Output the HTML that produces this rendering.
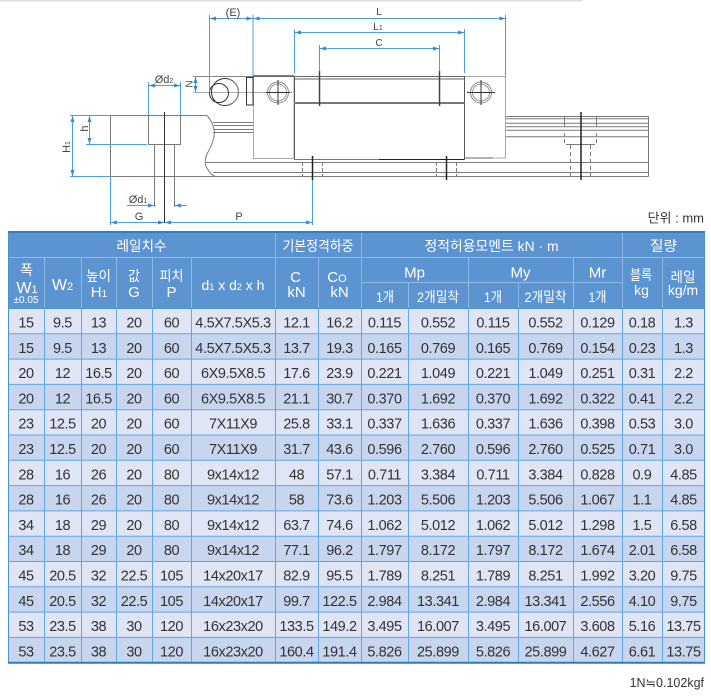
<!DOCTYPE html>
<html><head><meta charset="utf-8">
<style>
html,body{margin:0;padding:0;background:#fff;}
svg{display:block;}
text{font-family:"Liberation Sans","Noto Sans CJK KR",sans-serif;}
.d text{font-size:14.5px;fill:#333;text-anchor:middle;letter-spacing:-0.4px;}
.h text{fill:#fff;text-anchor:middle;}
.k{font-size:14px;}
.l{font-size:15px;}
.dm{font-size:11px;fill:#444;text-anchor:middle;}
</style></head><body>
<svg width="711" height="700" viewBox="0 0 711 700" xmlns="http://www.w3.org/2000/svg">
<defs>
<marker id="a" markerUnits="userSpaceOnUse" markerWidth="6" markerHeight="4" refX="6" refY="2" orient="auto-start-reverse"><path d="M0,0L6,2L0,4z" fill="#2f8ad8"/></marker>
</defs>
<rect width="711" height="700" fill="#fff"/>
<line x1="0" y1="0.5" x2="582" y2="0.5" stroke="#ddd" stroke-width="2"/>

<!-- ===== drawing: gray geometry ===== -->
<g stroke="#7a7a7a" stroke-width="1" fill="none">
 <path d="M110.5,115.5V176.5"/>
 <path d="M110.5,115.5H207"/>
 <path d="M110.5,176.5H648.5"/>
 <path d="M206,162.5H648.5"/>
 <path d="M213,172.5H648.5"/>
 <path d="M207,115.5Q213,122 214.5,132Q214,142 208,152Q203,162 207,168Q210,174 215,176.5"/>
 <path d="M213,122.5H253M214,125.5H253M214,129.5H253M213,132.5H253"/>
 <path d="M148.5,115.5V144.5H180.5V115.5"/>
 <path d="M154.5,144.5V207M174.5,144.5V207"/>
 <path d="M506,116.5H648.5M506,118.8H648.5M506,123.3H648.5M506,126.7H648.5M506,130.2H648.5M506,136.7H648.5"/>
 <path d="M648.5,116.5V176.5"/>
 <path d="M564.5,116V127M596.5,116V127"/>
 <path d="M564.5,133V144.5M596.5,133V144.5" stroke-dasharray="4,2"/>
 <path d="M566,144.5H595"/>
 <path d="M570.5,145V176M590.5,145V176" stroke-dasharray="4,3"/>
 <path d="M302.5,162V176M322.5,162V176M436.5,162V176M456.5,162V176" stroke-dasharray="4,2"/>
 <!-- block -->
 <rect x="253.5" y="76.5" width="40.5" height="82" stroke="#aaa"/>
 <rect x="464.5" y="76.5" width="41" height="81.5" stroke="#aaa"/>
 <path d="M294,76.5H464.5M294,79H464.5" stroke="#666"/>
 <path d="M294.5,76V159.5M464.5,76V159.5" stroke="#555"/>
 <path d="M294,159.5H379" stroke="#777"/>
 <path d="M193,76.5H253" stroke="#888"/>
 <path d="M193,92.5H292" stroke="#aaa"/>
 <circle cx="278" cy="92.5" r="10.5" stroke="#888"/>
 <circle cx="278" cy="92.5" r="8.5" stroke="#999"/>
 <circle cx="481" cy="92.5" r="10.5" stroke="#888"/>
 <circle cx="481" cy="92.5" r="8.5" stroke="#999"/>
</g>
<g fill="none" stroke="#333">
 <path d="M253,76H294" stroke="#555" stroke-width="1.5"/>
 <path d="M294,103H464.5" stroke="#777" stroke-width="2"/>
 <path d="M379,159.5H464.5" stroke="#222"/>
 <path d="M464.5,158H493" stroke="#666"/>
 <path d="M319.5,71V106M439.5,71V106" stroke="#444" stroke-width="1.5"/>
 <path d="M278,80V105M266,92.5H290M481,80V105M467,92.5H495" stroke="#333"/>
 <circle cx="225" cy="92" r="13.5"/>
 <circle cx="219" cy="93" r="9.5"/>
 <path d="M229,79.5A13,13 0 0 1 229,104.5" stroke="#888"/>
 <rect x="246.5" y="77.5" width="6.5" height="27.5"/>
 <path d="M164.5,112V223" stroke="#333"/>
 <path d="M312.5,156V180M446.5,156V180M581,112V180" stroke="#222" stroke-width="1.5"/>
</g>

<!-- ===== dimensions (blue) ===== -->
<g stroke="#4d9de0" stroke-width="1" fill="none">
 <path d="M209.5,15V92M253,15V76M505.5,15V76M294.5,29V73M464.5,29V73M319.5,45V71M439.5,45V71"/>
 <line x1="210" y1="18.5" x2="252.5" y2="18.5" marker-start="url(#a)" marker-end="url(#a)"/>
 <line x1="253.5" y1="18.5" x2="505.5" y2="18.5" marker-start="url(#a)" marker-end="url(#a)"/>
 <line x1="295" y1="32.5" x2="464" y2="32.5" marker-start="url(#a)" marker-end="url(#a)"/>
 <line x1="320" y1="48.5" x2="439" y2="48.5" marker-start="url(#a)" marker-end="url(#a)"/>
 <line x1="195.5" y1="77" x2="195.5" y2="92" marker-start="url(#a)" marker-end="url(#a)"/>
 <path d="M148.5,82V115M180.5,82V115"/>
 <line x1="149" y1="85.5" x2="180" y2="85.5" marker-start="url(#a)" marker-end="url(#a)"/>
 <path d="M70,115.5H110M70,176.5H110M86,144.5H147"/>
 <line x1="89.5" y1="116" x2="89.5" y2="144" marker-start="url(#a)" marker-end="url(#a)"/>
 <line x1="72.5" y1="116" x2="72.5" y2="176" marker-start="url(#a)" marker-end="url(#a)"/>
 <line x1="127" y1="205.5" x2="154" y2="205.5" marker-end="url(#a)"/>
 <line x1="187" y1="205.5" x2="175" y2="205.5" marker-end="url(#a)"/>
 <path d="M110.5,177V225M312.5,180V225"/>
 <line x1="111" y1="222.5" x2="164" y2="222.5" marker-start="url(#a)" marker-end="url(#a)"/>
 <line x1="165" y1="222.5" x2="312" y2="222.5" marker-start="url(#a)" marker-end="url(#a)"/>
</g>
<g class="dm">
 <text x="233" y="16">(E)</text>
 <text x="379" y="15" style="font-size:10px">L</text>
 <text x="378" y="30" style="font-size:10px">L<tspan style="font-size:7px">1</tspan></text>
 <text x="379" y="46" style="font-size:10px">C</text>
 <text transform="translate(192.5,84) rotate(-90)" style="font-size:10px">N</text>
 <text x="164" y="83">Ød<tspan style="font-size:7px">2</tspan></text>
 <text transform="translate(88,128.5) rotate(-90)">h</text>
 <text transform="translate(70,147) rotate(-90)">H<tspan style="font-size:7px">1</tspan></text>
 <text x="138" y="203">Ød<tspan style="font-size:7px">1</tspan></text>
 <text x="139" y="220">G</text>
 <text x="239" y="220">P</text>
</g>
<text x="704" y="222.5" text-anchor="end" style="font-size:13px;fill:#333">단위 : mm</text>

<!-- ===== table ===== -->
<rect x="8" y="232" width="697" height="76.5" fill="#5b94d0"/>
<rect x="8" y="308.5" width="697" height="354.2" fill="#dfe5f4"/>
<g fill="#c7d5ee">
 <rect x="8" y="333.8" width="697" height="25.3"/>
 <rect x="8" y="384.4" width="697" height="25.3"/>
 <rect x="8" y="435" width="697" height="25.3"/>
 <rect x="8" y="485.6" width="697" height="25.3"/>
 <rect x="8" y="536.2" width="697" height="25.3"/>
 <rect x="8" y="586.8" width="697" height="25.3"/>
 <rect x="8" y="637.4" width="697" height="25.3"/>
</g>
<!-- header grid -->
<g stroke="#8dbbe6" stroke-width="1">
 <path d="M8,257.5H705M361,282.5H622"/>
 <path d="M275.5,232V308.5M361.5,232V308.5M622.5,232V308.5"/>
 <path d="M44.5,257.5V308.5M81.5,257.5V308.5M116.5,257.5V308.5M152.5,257.5V308.5M191.5,257.5V308.5M318.5,257.5V308.5M468.5,257.5V308.5M573.5,257.5V308.5M662.5,257.5V308.5"/>
 <path d="M408.5,282.5V308.5M518.5,282.5V308.5"/>
</g>
<!-- data grid -->
<g stroke="#62a6de" stroke-width="1">
 <path d="M8,333.8H705M8,359.1H705M8,384.4H705M8,409.7H705M8,435H705M8,460.3H705M8,485.6H705M8,510.9H705M8,536.2H705M8,561.5H705M8,586.8H705M8,612.1H705M8,637.4H705"/>
 <path d="M44.5,308.5V662.7M81.5,308.5V662.7M116.5,308.5V662.7M152.5,308.5V662.7M191.5,308.5V662.7M275.5,308.5V662.7M318.5,308.5V662.7M361.5,308.5V662.7M408.5,308.5V662.7M468.5,308.5V662.7M518.5,308.5V662.7M573.5,308.5V662.7M622.5,308.5V662.7M662.5,308.5V662.7"/>
</g>
<path d="M8,308.5H705" stroke="#4d92d2" stroke-width="1"/>
<path d="M8.5,232V663M704.5,232V663" stroke="#4a93d3" stroke-width="1"/>
<path d="M8,232H705" stroke="#2c7fc4" stroke-width="2"/>
<path d="M8,662.7H705" stroke="#2c7cc2" stroke-width="2"/>

<!-- header text -->
<g class="h">
 <text class="k" x="141.5" y="251" textLength="50" lengthAdjust="spacingAndGlyphs">레일치수</text>
 <text class="k" x="318" y="251" textLength="71" lengthAdjust="spacingAndGlyphs">기본정격하중</text>
 <text class="k" x="491.5" y="251" textLength="134" lengthAdjust="spacingAndGlyphs">정적허용모멘트 kN · m</text>
 <text class="k" x="663.5" y="251" textLength="27" lengthAdjust="spacingAndGlyphs">질량</text>

 <text class="k" x="26.5" y="275" textLength="13" lengthAdjust="spacingAndGlyphs">폭</text>
 <text x="27" y="293" style="font-size:16px">W<tspan style="font-size:11px">1</tspan></text>
 <text x="26" y="303" style="font-size:10px">±0.05</text>
 <text x="62.5" y="290" style="font-size:16px">W<tspan style="font-size:11px">2</tspan></text>
 <text class="k" x="98.5" y="281" textLength="25" lengthAdjust="spacingAndGlyphs">높이</text>
 <text class="l" x="99" y="297">H<tspan style="font-size:10px">1</tspan></text>
 <text class="k" x="134" y="281" textLength="12" lengthAdjust="spacingAndGlyphs">값</text>
 <text class="l" x="134" y="297">G</text>
 <text class="k" x="171.5" y="281" textLength="24" lengthAdjust="spacingAndGlyphs">피치</text>
 <text class="l" x="171.5" y="297">P</text>
 <text x="233" y="290" style="font-size:14px">d<tspan style="font-size:9px">1</tspan> x d<tspan style="font-size:9px">2</tspan> x h</text>
 <text class="l" x="295.5" y="282">C</text>
 <text class="l" x="296.5" y="297">kN</text>
 <text class="l" x="337" y="282">C<tspan style="font-size:11px">O</tspan></text>
 <text class="l" x="339.5" y="297">kN</text>
 <text class="l" x="414.5" y="277.5">Mp</text>
 <text class="l" x="520.5" y="277.5">My</text>
 <text class="l" x="597.5" y="277.5">Mr</text>
 <text class="k" x="385" y="302" textLength="18" lengthAdjust="spacingAndGlyphs">1개</text>
 <text class="k" x="438" y="302" textLength="42" lengthAdjust="spacingAndGlyphs">2개밀착</text>
 <text class="k" x="493" y="302" textLength="18" lengthAdjust="spacingAndGlyphs">1개</text>
 <text class="k" x="545.5" y="302" textLength="42" lengthAdjust="spacingAndGlyphs">2개밀착</text>
 <text class="k" x="597.5" y="302" textLength="18" lengthAdjust="spacingAndGlyphs">1개</text>
 <text class="k" x="641" y="280" textLength="22" lengthAdjust="spacingAndGlyphs">블록</text>
 <text class="k" x="641.5" y="295" style="font-size:14px">kg</text>
 <text class="k" x="683" y="282" textLength="25" lengthAdjust="spacingAndGlyphs">레일</text>
 <text class="k" x="683" y="295" style="font-size:14px">kg/m</text>
</g>

<!-- data -->
<g class="d">
<g transform="translate(0,327.5)"><text x="26">15</text><text x="62.5">9.5</text><text x="98.5">13</text><text x="134">20</text><text x="171.5">60</text><text x="233">4.5X7.5X5.3</text><text x="296.5">12.1</text><text x="339.5">16.2</text><text x="384.5">0.115</text><text x="438">0.552</text><text x="493">0.115</text><text x="545.5">0.552</text><text x="597.5">0.129</text><text x="642">0.18</text><text x="683.5">1.3</text></g>
<g transform="translate(0,352.8)"><text x="26">15</text><text x="62.5">9.5</text><text x="98.5">13</text><text x="134">20</text><text x="171.5">60</text><text x="233">4.5X7.5X5.3</text><text x="296.5">13.7</text><text x="339.5">19.3</text><text x="384.5">0.165</text><text x="438">0.769</text><text x="493">0.165</text><text x="545.5">0.769</text><text x="597.5">0.154</text><text x="642">0.23</text><text x="683.5">1.3</text></g>
<g transform="translate(0,378.1)"><text x="26">20</text><text x="62.5">12</text><text x="98.5">16.5</text><text x="134">20</text><text x="171.5">60</text><text x="233">6X9.5X8.5</text><text x="296.5">17.6</text><text x="339.5">23.9</text><text x="384.5">0.221</text><text x="438">1.049</text><text x="493">0.221</text><text x="545.5">1.049</text><text x="597.5">0.251</text><text x="642">0.31</text><text x="683.5">2.2</text></g>
<g transform="translate(0,403.4)"><text x="26">20</text><text x="62.5">12</text><text x="98.5">16.5</text><text x="134">20</text><text x="171.5">60</text><text x="233">6X9.5X8.5</text><text x="296.5">21.1</text><text x="339.5">30.7</text><text x="384.5">0.370</text><text x="438">1.692</text><text x="493">0.370</text><text x="545.5">1.692</text><text x="597.5">0.322</text><text x="642">0.41</text><text x="683.5">2.2</text></g>
<g transform="translate(0,428.7)"><text x="26">23</text><text x="62.5">12.5</text><text x="98.5">20</text><text x="134">20</text><text x="171.5">60</text><text x="233">7X11X9</text><text x="296.5">25.8</text><text x="339.5">33.1</text><text x="384.5">0.337</text><text x="438">1.636</text><text x="493">0.337</text><text x="545.5">1.636</text><text x="597.5">0.398</text><text x="642">0.53</text><text x="683.5">3.0</text></g>
<g transform="translate(0,454)"><text x="26">23</text><text x="62.5">12.5</text><text x="98.5">20</text><text x="134">20</text><text x="171.5">60</text><text x="233">7X11X9</text><text x="296.5">31.7</text><text x="339.5">43.6</text><text x="384.5">0.596</text><text x="438">2.760</text><text x="493">0.596</text><text x="545.5">2.760</text><text x="597.5">0.525</text><text x="642">0.71</text><text x="683.5">3.0</text></g>
<g transform="translate(0,479.3)"><text x="26">28</text><text x="62.5">16</text><text x="98.5">26</text><text x="134">20</text><text x="171.5">80</text><text x="233">9x14x12</text><text x="296.5">48</text><text x="339.5">57.1</text><text x="384.5">0.711</text><text x="438">3.384</text><text x="493">0.711</text><text x="545.5">3.384</text><text x="597.5">0.828</text><text x="642">0.9</text><text x="683.5">4.85</text></g>
<g transform="translate(0,504.6)"><text x="26">28</text><text x="62.5">16</text><text x="98.5">26</text><text x="134">20</text><text x="171.5">80</text><text x="233">9x14x12</text><text x="296.5">58</text><text x="339.5">73.6</text><text x="384.5">1.203</text><text x="438">5.506</text><text x="493">1.203</text><text x="545.5">5.506</text><text x="597.5">1.067</text><text x="642">1.1</text><text x="683.5">4.85</text></g>
<g transform="translate(0,529.9)"><text x="26">34</text><text x="62.5">18</text><text x="98.5">29</text><text x="134">20</text><text x="171.5">80</text><text x="233">9x14x12</text><text x="296.5">63.7</text><text x="339.5">74.6</text><text x="384.5">1.062</text><text x="438">5.012</text><text x="493">1.062</text><text x="545.5">5.012</text><text x="597.5">1.298</text><text x="642">1.5</text><text x="683.5">6.58</text></g>
<g transform="translate(0,555.2)"><text x="26">34</text><text x="62.5">18</text><text x="98.5">29</text><text x="134">20</text><text x="171.5">80</text><text x="233">9x14x12</text><text x="296.5">77.1</text><text x="339.5">96.2</text><text x="384.5">1.797</text><text x="438">8.172</text><text x="493">1.797</text><text x="545.5">8.172</text><text x="597.5">1.674</text><text x="642">2.01</text><text x="683.5">6.58</text></g>
<g transform="translate(0,580.5)"><text x="26">45</text><text x="62.5">20.5</text><text x="98.5">32</text><text x="134">22.5</text><text x="171.5">105</text><text x="233">14x20x17</text><text x="296.5">82.9</text><text x="339.5">95.5</text><text x="384.5">1.789</text><text x="438">8.251</text><text x="493">1.789</text><text x="545.5">8.251</text><text x="597.5">1.992</text><text x="642">3.20</text><text x="683.5">9.75</text></g>
<g transform="translate(0,605.8)"><text x="26">45</text><text x="62.5">20.5</text><text x="98.5">32</text><text x="134">22.5</text><text x="171.5">105</text><text x="233">14x20x17</text><text x="296.5">99.7</text><text x="339.5">122.5</text><text x="384.5">2.984</text><text x="438">13.341</text><text x="493">2.984</text><text x="545.5">13.341</text><text x="597.5">2.556</text><text x="642">4.10</text><text x="683.5">9.75</text></g>
<g transform="translate(0,631.1)"><text x="26">53</text><text x="62.5">23.5</text><text x="98.5">38</text><text x="134">30</text><text x="171.5">120</text><text x="233">16x23x20</text><text x="296.5">133.5</text><text x="339.5">149.2</text><text x="384.5">3.495</text><text x="438">16.007</text><text x="493">3.495</text><text x="545.5">16.007</text><text x="597.5">3.608</text><text x="642">5.16</text><text x="683.5">13.75</text></g>
<g transform="translate(0,656.4)"><text x="26">53</text><text x="62.5">23.5</text><text x="98.5">38</text><text x="134">30</text><text x="171.5">120</text><text x="233">16x23x20</text><text x="296.5">160.4</text><text x="339.5">191.4</text><text x="384.5">5.826</text><text x="438">25.899</text><text x="493">5.826</text><text x="545.5">25.899</text><text x="597.5">4.627</text><text x="642">6.61</text><text x="683.5">13.75</text></g>
</g>

<text x="704" y="687" text-anchor="end" style="font-size:12.5px;fill:#333">1N≒0.102kgf</text>
</svg>
</body></html>
